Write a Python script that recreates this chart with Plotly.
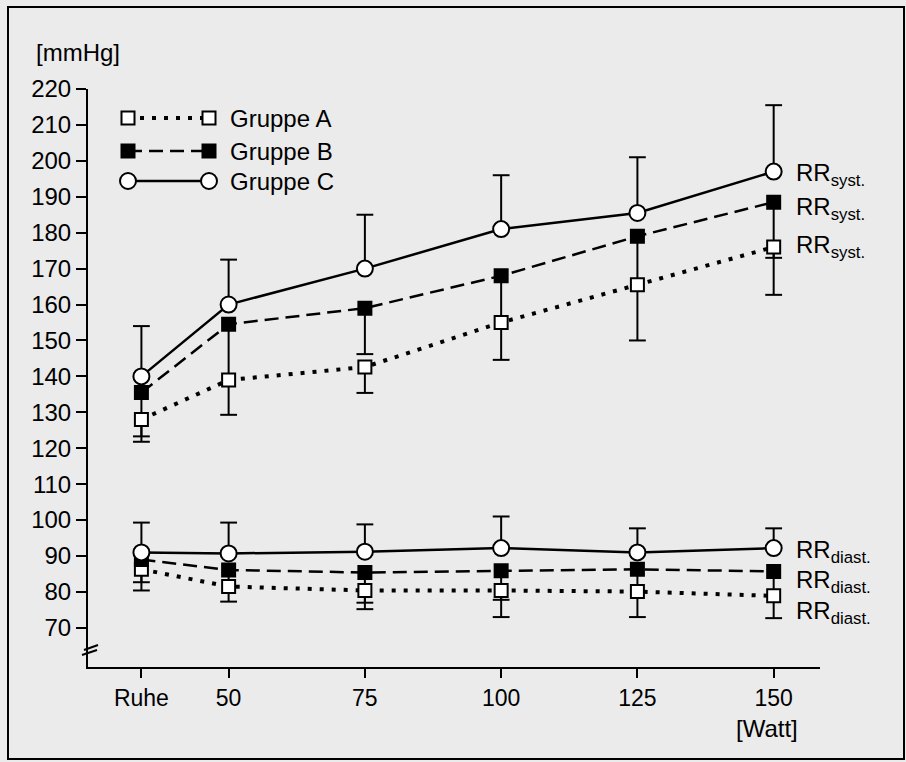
import plotly.graph_objects as go

# ---------------- data ----------------
x_labels = ["Ruhe", "50", "75", "100", "125", "150"]
x_pos = [34, 50, 75, 100, 125, 150]          # load level positions on the Watt axis

sys_A = [128, 139, 142.6, 155, 165.5, 176]
sys_B = [135.5, 154.5, 159, 168, 179, 188.5]
sys_C = [140, 160, 170, 181, 185.5, 197]
sys_A_sd = [4.7, 0, 7.2, 0, 0, 3]            # drawn downward
sys_B_sd = [13.7, 25.2, 12.8, 23.4, 29, 25.8]  # drawn downward
sys_C_sd = [14, 12.5, 15, 15, 15.5, 18.5]    # drawn upward

dia_A = [86.3, 81.5, 80.4, 80.4, 80.1, 78.9]
dia_B = [89, 86.1, 85.4, 85.9, 86.3, 85.7]
dia_C = [91, 90.7, 91.2, 92.2, 91, 92.2]
dia_A_sd = [3.6, 0, 3.4, 2.6, 0, 0]
dia_B_sd = [8.6, 8.8, 10.2, 12.9, 13.3, 13]
dia_C_sd = [8.3, 8.6, 7.6, 8.8, 6.7, 5.5]

y_ticks = [70, 80, 90, 100, 110, 120, 130, 140, 150, 160, 170, 180, 190, 200, 210, 220]
group_names = ["Gruppe A", "Gruppe B", "Gruppe C"]

# ---------------- style ----------------
BG = "#ebebeb"
FONT = "Liberation Sans, Arial, Helvetica, sans-serif"
W, H = 906, 762
ML, MR, MT, MB = 88, 86, 89, 95
PW, PH = W - ML - MR, H - MT - MB


def px2paper(px, py):
    return (px - ML) / PW, (H - MB - py) / PH


style = {
    "A": dict(dash="4px,8px", width=4, symbol="square", fill="white", size=13),
    "B": dict(dash="14px,7px", width=2.5, symbol="square", fill="black", size=13),
    "C": dict(dash="solid", width=2.5, symbol="circle", fill="white", size=16),
}

fig = go.Figure()


def add_errors(vals, sds, sign):
    xs, ys, cx, cy = [], [], [], []
    for x, v, e in zip(x_pos, vals, sds):
        if e > 0:
            xs += [x, x, None]
            ys += [v, v + sign * e, None]
            cx.append(x)
            cy.append(v + sign * e)
    fig.add_trace(go.Scatter(x=xs, y=ys, mode="lines", line=dict(color="black", width=2),
                             hoverinfo="skip", showlegend=False))
    fig.add_trace(go.Scatter(x=cx, y=cy, mode="markers",
                             marker=dict(symbol="line-ew", size=12, line=dict(color="black", width=2)),
                             hoverinfo="skip", showlegend=False))


# error bars first (beneath markers)
add_errors(sys_C, sys_C_sd, +1)
add_errors(sys_B, sys_B_sd, -1)
add_errors(sys_A, sys_A_sd, -1)
add_errors(dia_C, dia_C_sd, +1)
add_errors(dia_B, dia_B_sd, -1)
add_errors(dia_A, dia_A_sd, -1)


def add_series(vals, key, name):
    s = style[key]
    fig.add_trace(go.Scatter(
        x=x_pos, y=vals, mode="lines+markers", name=name, showlegend=False,
        line=dict(color="black", width=s["width"], dash=s["dash"]),
        marker=dict(symbol=s["symbol"], size=s["size"], color=s["fill"],
                    line=dict(color="black", width=2)),
    ))


for vals, key, nm in [(sys_A, "A", "Gruppe A"), (dia_A, "A", "Gruppe A"),
                      (sys_B, "B", "Gruppe B"), (dia_B, "B", "Gruppe B"),
                      (sys_C, "C", "Gruppe C"), (dia_C, "C", "Gruppe C")]:
    add_series(vals, key, nm)

# ---------------- custom legend (overlay axes in paper-like units) ----------------
legend_rows_px = [118, 151, 181]
lx0, _ = px2paper(128, 0)
lx1, _ = px2paper(209, 0)
ltx, _ = px2paper(228, 0)
annotations = []
for key, name, rpx in zip(["A", "B", "C"], group_names, legend_rows_px):
    s = style[key]
    _, ly = px2paper(0, rpx)
    fig.add_trace(go.Scatter(
        x=[lx0, lx1], y=[ly, ly], xaxis="x2", yaxis="y2", mode="lines+markers",
        showlegend=False, hoverinfo="skip",
        line=dict(color="black", width=s["width"], dash=s["dash"]),
        marker=dict(symbol=s["symbol"], size=s["size"], color=s["fill"],
                    line=dict(color="black", width=2)),
    ))
    annotations.append(dict(x=ltx, y=ly, xref="paper", yref="paper", text=name,
                            showarrow=False, xanchor="left", yanchor="middle",
                            font=dict(size=24, color="black", family=FONT)))

# RR labels
rr_x, _ = px2paper(794, 0)
for rpx in [174, 209, 246]:
    _, yy = px2paper(0, rpx)
    annotations.append(dict(x=rr_x, y=yy, xref="paper", yref="paper",
                            text="RR<sub>syst.</sub>", showarrow=False,
                            xanchor="left", yanchor="middle",
                            font=dict(size=24, color="black", family=FONT)))
for rpx in [551, 581, 612]:
    _, yy = px2paper(0, rpx)
    annotations.append(dict(x=rr_x, y=yy, xref="paper", yref="paper",
                            text="RR<sub>diast.</sub>", showarrow=False,
                            xanchor="left", yanchor="middle",
                            font=dict(size=24, color="black", family=FONT)))

mx, my = px2paper(78, 52)
annotations.append(dict(x=mx, y=my, xref="paper", yref="paper", text="[mmHg]",
                        showarrow=False, xanchor="center", yanchor="middle",
                        font=dict(size=24, color="black", family=FONT)))
wx, wy = px2paper(767, 728)
annotations.append(dict(x=wx, y=wy, xref="paper", yref="paper", text="[Watt]",
                        showarrow=False, xanchor="center", yanchor="middle",
                        font=dict(size=24, color="black", family=FONT)))

# frame and axis break
shapes = []
fx0, fy0 = px2paper(8, 759)
fx1, fy1 = px2paper(904, 7)
shapes.append(dict(type="rect", xref="paper", yref="paper", x0=fx0, y0=fy0, x1=fx1, y1=fy1,
                   line=dict(color="black", width=2), fillcolor="rgba(0,0,0,0)", layer="below"))
for (a, b, c, d) in [(82, 655, 97, 650), (84, 650, 98, 645)]:
    x0, y0 = px2paper(a, b)
    x1, y1 = px2paper(c, d)
    shapes.append(dict(type="line", xref="paper", yref="paper", x0=x0, y0=y0, x1=x1, y1=y1,
                       line=dict(color="black", width=2)))

fig.update_layout(
    width=W, height=H,
    margin=dict(l=ML, r=MR, t=MT, b=MB),
    paper_bgcolor=BG, plot_bgcolor=BG,
    font=dict(family=FONT, size=24, color="black"),
    showlegend=False,
    xaxis=dict(range=[24.2, 158.5], tickvals=x_pos, ticktext=x_labels,
               showgrid=False, zeroline=False, showline=True, linecolor="black", linewidth=2,
               ticks="outside", ticklen=9, tickwidth=2, tickcolor="black",
               tickfont=dict(size=23, family=FONT, color="black")),
    yaxis=dict(range=[59.1, 220], tickvals=y_ticks,
               showgrid=False, zeroline=False, showline=True, linecolor="black", linewidth=2,
               ticks="outside", ticklen=10, tickwidth=2, tickcolor="black",
               tickfont=dict(size=24, family=FONT, color="black")),
    xaxis2=dict(overlaying="x", range=[0, 1], visible=False),
    yaxis2=dict(overlaying="y", range=[0, 1], visible=False),
    annotations=annotations,
    shapes=shapes,
)

fig.write_html(
    "out.html",
    config={"displayModeBar": False},
    post_script="document.body.style.margin='0';document.body.style.background='" + BG + "';",
)
